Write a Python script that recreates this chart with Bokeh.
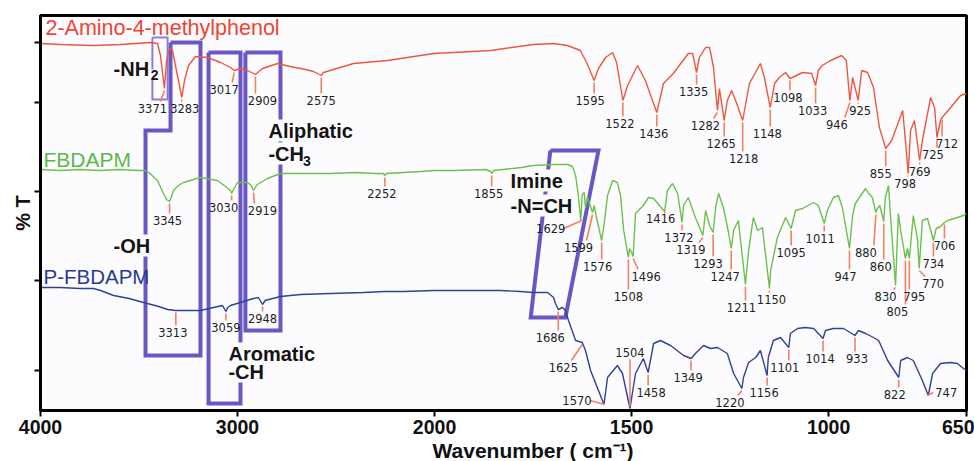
import numpy as np
from bokeh.plotting import figure
from bokeh.models import Range1d, FixedTicker, Label, Title, CustomJSTickFormatter
from bokeh.core.properties import value
from bokeh.embed import file_html
from bokeh.resources import INLINE

# ---------------- spectra (wavenumber cm-1, transmittance offset a.u.) ----------------
amino_wn = [4000, 3900, 3731, 3594, 3442, 3406, 3391, 3371, 3360, 3345, 3330, 3305, 3283, 3269, 3249, 3213,
            3152, 3086, 3036, 3017, 2985, 2949, 2909, 2873, 2797, 2731, 2655, 2614, 2575, 2564, 2411, 2239,
            2071, 2000, 1952, 1858, 1749, 1698, 1663, 1630, 1614, 1595, 1584, 1566, 1548, 1538, 1522, 1510,
            1485, 1465, 1436, 1419, 1394, 1356, 1345, 1335, 1328, 1312, 1302, 1292, 1282, 1277, 1265, 1257,
            1246, 1236, 1218, 1201, 1173, 1163, 1148, 1137, 1125, 1109, 1098, 1092, 1066, 1043, 1033, 1026,
            1016, 995, 967, 955, 946, 939, 925, 916, 901, 886, 871, 855, 840, 812, 805, 798, 792, 782, 769,
            762, 741, 731, 725, 716, 712, 690, 665, 650]
amino_t = [367, 366, 365, 366, 368, 367, 355, 322, 350, 362, 360, 335, 313, 330, 345, 354,
           353, 348, 343, 340, 342, 340, 336, 342, 347, 344, 341, 339, 335, 338, 347, 350,
           355, 357, 358, 360, 366, 367, 365, 360, 348, 330, 342, 353, 358, 348, 310, 325,
           345, 330, 298, 327, 337, 357, 357, 338, 353, 363, 363, 343, 300, 322, 290, 310,
           320, 310, 290, 327, 347, 333, 303, 327, 333, 338, 332, 333, 338, 337, 325, 340,
           345, 350, 355, 350, 310, 333, 310, 340, 338, 323, 283, 262, 270, 300, 270, 237, 280, 290, 250,
           270, 313, 303, 273, 290, 293, 303, 315, 317]

fbdapm_wn = [4000, 3900, 3800, 3700, 3600, 3500, 3467, 3450, 3406, 3376, 3360, 3345, 3335, 3325, 3300, 3274,
             3188, 3102, 3060, 3036, 3030, 3015, 3000, 2949, 2930, 2919, 2900, 2848, 2782, 2680, 2528, 2400,
             2300, 2260, 2252, 2245, 2158, 2071, 2000, 1950, 1870, 1858, 1855, 1850, 1780, 1749, 1698, 1663,
             1650, 1642, 1635, 1629, 1625, 1620, 1617, 1612, 1605, 1599, 1595, 1590, 1576, 1570, 1561, 1548,
             1536, 1528, 1520, 1508, 1505, 1500, 1496, 1490, 1470, 1457, 1444, 1427, 1416, 1409, 1396, 1383,
             1372, 1368, 1356, 1338, 1319, 1312, 1302, 1293, 1286, 1279, 1267, 1255, 1247, 1241, 1229, 1211,
             1203, 1191, 1180, 1168, 1150, 1147, 1130, 1109, 1095, 1084, 1066, 1038, 1026, 1011, 1003, 988,
             975, 965, 947, 939, 932, 906, 898, 889, 880, 876, 870, 860, 856, 848, 842, 830, 823, 817, 805,
             800, 795, 785, 774, 770, 762, 749, 734, 727, 716, 706, 698, 673, 658, 650]
fbdapm_t = [241, 240, 241, 240, 241, 240, 240, 238, 230, 217, 211, 209, 214, 220, 225, 228,
            233, 230, 224, 220, 217, 223, 228, 228, 225, 220, 226, 232, 237, 237, 237, 238,
            237, 237, 235, 237, 238, 239, 240, 240, 241, 239, 237, 240, 243, 245, 246, 246,
            244, 235, 215, 190, 216, 218, 203, 213, 205, 198, 205, 195, 170, 185, 215, 230,
            228, 215, 180, 153, 162, 158, 154, 197, 205, 213, 212, 204, 199, 220, 227, 217,
            188, 205, 213, 193, 175, 200, 185, 178, 205, 217, 203, 180, 162, 180, 190, 126,
            160, 193, 180, 183, 122, 140, 173, 193, 182, 200, 202, 208, 205, 187, 200, 213,
            215, 203, 162, 195, 207, 222, 217, 213, 198, 202, 205, 189, 213, 225, 190, 125, 197, 180, 152,
            162, 152, 195, 170, 142, 190, 192, 170, 182, 184, 188, 190, 193, 195, 197]

pfbdapm_wn = [4000, 3900, 3800, 3731, 3695, 3629, 3550, 3477, 3400, 3355, 3313, 3250, 3188, 3122, 3076, 3059,
              3050, 3036, 2985, 2919, 2894, 2873, 2860, 2782, 2680, 2528, 2361, 2254, 2158, 2000, 1900, 1833,
              1782, 1749, 1713, 1698, 1693, 1686, 1675, 1668, 1660, 1642, 1625, 1617, 1604, 1570, 1561, 1536,
              1523, 1504, 1490, 1470, 1458, 1444, 1427, 1401, 1368, 1349, 1338, 1317, 1300, 1282, 1257, 1241,
              1220, 1216, 1203, 1185, 1173, 1156, 1153, 1140, 1122, 1101, 1097, 1079, 1059, 1038, 1014, 1008,
              988, 962, 933, 924, 906, 886, 873, 850, 822, 817, 800, 785, 762, 747, 736, 716, 691, 673, 658, 650]
pfbdapm_t = [123, 123, 122, 122, 120, 115, 112, 108, 104, 101, 100, 100, 100, 103, 105, 99,
             103, 105, 108, 112, 113, 106, 110, 114, 116, 117, 118, 119, 119, 120, 120, 120,
             119, 118, 118, 113, 107, 101, 103, 100, 90, 70, 68, 60, 40, 6, 33, 45,
             37, 2, 37, 52, 38, 67, 70, 65, 55, 52, 57, 65, 62, 63, 57, 37,
             22, 33, 48, 53, 60, 35, 53, 70, 73, 63, 77, 82, 83, 82, 72, 80,
             82, 82, 75, 80, 77, 73, 70, 50, 33, 50, 53, 50, 30, 15, 37, 47, 48, 47, 42, 40]

# ---------------- peak annotations ----------------
amino_peaks = [3371, 3283, 3017, 2909, 2575, 1595, 1522, 1436, 1335, 1282, 1265, 1218, 1148, 1098, 1033,
               946, 925, 855, 798, 769, 725, 712]
amino_labels = [str(v) for v in amino_peaks]
amino_label_t = [302, 302, 321, 310, 310, 310, 287, 277, 319, 285, 267, 252, 277, 313, 300,
                 286, 300, 237, 227, 239, 256, 267]
amino_label_dx = [-12, 3, -10, 7, 0, -4, -3, -3, -3, -12, -3, 1, -3, -2, -3, -13, 2, -5, -3, 0, -4, 5]

fbdapm_peaks = [3345, 3030, 2919, 2252, 1855, 1629, 1599, 1576, 1508, 1496, 1416, 1372, 1319, 1293, 1247,
                1211, 1150, 1095, 1011, 947, 880, 860, 830, 805, 795, 770, 734, 706]
fbdapm_labels = [str(v) for v in fbdapm_peaks]
fbdapm_label_t = [190, 203, 200, 217, 217, 182, 163, 144, 114, 134, 192, 173, 161, 147, 134,
                  103, 111, 158, 172, 134, 158, 144, 114, 99, 114, 127, 147, 165]
fbdapm_label_dx = [-2, -8, 9, -3, -3, -30, -14, -4, 0, 13, -4, -3, -12, -5, -6,
                   -4, 2, 0, -4, -4, -10, -3, -10, -8, 5, 14, 0, 0]

pfbdapm_peaks = [3313, 3059, 2873, 1686, 1625, 1570, 1504, 1458, 1349, 1220, 1156, 1101, 1014, 933, 822, 747]
pfbdapm_labels = ["3313", "3059", "2948", "1686", "1625", "1570", "1504", "1458", "1349", "1220", "1156",
                  "1101", "1014", "933", "822", "747"]
pfbdapm_label_t = [78, 83, 92, 73, 43, 10, 58, 18, 33, 8, 18, 43, 52, 52, 16, 18]
pfbdapm_label_dx = [-3, 0, 0, -8, -19, -27, 0, 3, -3, -12, -3, -4, -3, 2, -4, 18]

x_tick_wn = [4000, 3000, 2000, 1500, 1000, 650]

RED = "#f0563e"
GREEN = "#6cc04c"
BLUE = "#2e4299"
BOX = "#6a56c4"
LEAD = "#f4805f"
BG = "#fcfcfe"


def to_u(w):
    """Piece-wise wavenumber axis: 2x expansion below 2000 cm-1."""
    w = np.asarray(w, dtype=float)
    return np.where(w >= 2000, 4000.0 - w, 2000.0 + 2.0 * (2000.0 - w))


PX = 4700.0 / 926.0  # x-units per screen pixel

p = figure(width=974, height=461, x_range=Range1d(0, 4700), y_range=Range1d(0, 395),
           output_backend="svg", toolbar_location=None,
           min_border_left=40, min_border_right=8, min_border_top=15, min_border_bottom=51)
p.background_fill_color = BG
p.border_fill_color = "white"
p.outline_line_color = "black"
p.outline_line_width = 3
p.xgrid.visible = False
p.ygrid.visible = False

# x axis
p.xaxis.ticker = FixedTicker(ticks=[float(v) for v in to_u(x_tick_wn)])
p.xaxis.major_label_overrides = {float(u): str(w) for u, w in zip(to_u(x_tick_wn), x_tick_wn)}
p.xaxis.minor_tick_line_color = None
p.xaxis.axis_line_width = 3
p.xaxis.major_tick_line_width = 2
p.xaxis.major_tick_out = 6
p.xaxis.major_tick_in = 0
p.xaxis.major_label_standoff = 3
p.xaxis.major_label_text_font = "Liberation Sans"
p.xaxis.major_label_text_font_style = "bold"
p.xaxis.major_label_text_font_size = "19.5px"
p.xaxis.major_label_text_color = "#111111"

# y axis (tick marks only, no numbers)
p.yaxis.ticker = FixedTicker(ticks=[40, 130, 219, 308, 368])
p.yaxis.formatter = CustomJSTickFormatter(code="return ''")
p.yaxis.minor_tick_line_color = None
p.yaxis.axis_line_width = 3
p.yaxis.major_tick_line_width = 2
p.yaxis.major_tick_out = 6
p.yaxis.major_tick_in = 0
p.yaxis.major_label_standoff = 0

p.add_layout(Title(text="Wavenumber ( cm\u207b\u00b9)", align="left", offset=392,
                   text_font="Liberation Sans", text_font_style="bold", text_font_size="21px",
                   text_color="#111111", standoff=0), "below")
p.add_layout(Title(text="% T", align="center",
                   text_font="Liberation Sans", text_font_style="bold", text_font_size="20px",
                   text_color="#111111", standoff=2), "left")

# group boxes
box_style = dict(line_color=BOX, line_width=4, line_join="miter")
p.line(to_u([3340, 3188, 3188, 3467, 3467, 3340, 3340]), [368, 368, 55, 55, 280, 280, 368], **box_style)
p.line(to_u([3147, 2985, 2985, 3147, 3147]), [358, 358, 7, 7, 358], **box_style)
p.line(to_u([2960, 2782, 2782, 2960, 2960]), [358, 358, 80, 80, 358], **box_style)
p.line(to_u([1706, 1584, 1668, 1756, 1706]), [260, 260, 93, 93, 260], **box_style)
p.line(to_u([3432, 3355, 3355, 3432, 3432]), [373, 373, 311, 311, 373],
       line_color="#8a7ed8", line_width=2, line_join="miter")

# spectra
series = [
    (amino_wn, amino_t, RED, amino_peaks, amino_labels, amino_label_t, amino_label_dx),
    (fbdapm_wn, fbdapm_t, GREEN, fbdapm_peaks, fbdapm_labels, fbdapm_label_t, fbdapm_label_dx),
    (pfbdapm_wn, pfbdapm_t, BLUE, pfbdapm_peaks, pfbdapm_labels, pfbdapm_label_t, pfbdapm_label_dx),
]
for wn, tr, col, *_ in series:
    p.line(to_u(wn), tr, line_color=col, line_width=1.4)

for wn, tr, col, pk, labs, lt, ldx in series:
    up = to_u(pk)
    tp = np.interp(up, to_u(wn), tr)
    lt = np.asarray(lt, float)
    dx = np.asarray(ldx, float)
    x0, y0, x1, y1 = [], [], [], []
    for u, t, l, d in zip(up, tp, lt, dx):
        s = np.sign(d)
        if abs(d) > 15 and abs(l - t) < 12:
            x0.append(u - s * PX); y0.append(t)
            x1.append(u + s * (abs(d) - 13) * PX); y1.append(l)
        elif l < t:
            x0.append(u); y0.append(t - 2)
            x1.append(u + s * max(0.0, abs(d) - 8) * PX); y1.append(l + 7)
        else:
            x0.append(u); y0.append(t + 2)
            x1.append(u + s * max(0.0, abs(d) - 8) * PX); y1.append(l - 7)
    p.segment(x0=x0, y0=y0, x1=x1, y1=y1, line_color=LEAD, line_width=1.6)
    p.text(x=up + dx * PX, y=lt, text=labs, text_align="center", text_baseline="middle",
           text_font=value("DejaVu Sans"), text_font_size="11.5px", text_color="#1e1e1e")

# series names
for txt, w, t, col, fs in [("2-Amino-4-methylphenol", 3975, 383, "#ee4433", "21.5px"),
                           ("FBDAPM", 3985, 251, "#5cb84a", "21px"),
                           ("P-FBDAPM", 3985, 134, "#2a3a90", "20.5px")]:
    p.add_layout(Label(x=float(to_u([w])[0]), y=t, text=txt, text_color=col, text_font="Liberation Sans",
                       text_font_size=fs, text_baseline="alphabetic"))

# group annotations (opaque background hides box lines behind them)
for txt, w, t, fs in [("-NH", 3629, 342, "20px"), ("2", 3440, 336, "14px"),
                      ("-OH", 3629, 165, "20px"),
                      ("Aliphatic", 2843, 280, "20px"), ("-CH", 2843, 257, "20px"), ("3", 2668, 250, "14px"),
                      ("Aromatic", 3046, 57, "20px"), ("-CH", 3046, 39, "20px"),
                      ("Imine", 1807, 230, "20px"), ("-N=CH", 1807, 205, "20px")]:
    p.add_layout(Label(x=float(to_u([w])[0]), y=t, text=txt, text_color="#141414",
                       text_font="Liberation Sans", text_font_style="bold", text_font_size=fs,
                       text_baseline="alphabetic", background_fill_color=BG, background_fill_alpha=1.0))

open("out.html", "w").write(file_html(p, INLINE))
